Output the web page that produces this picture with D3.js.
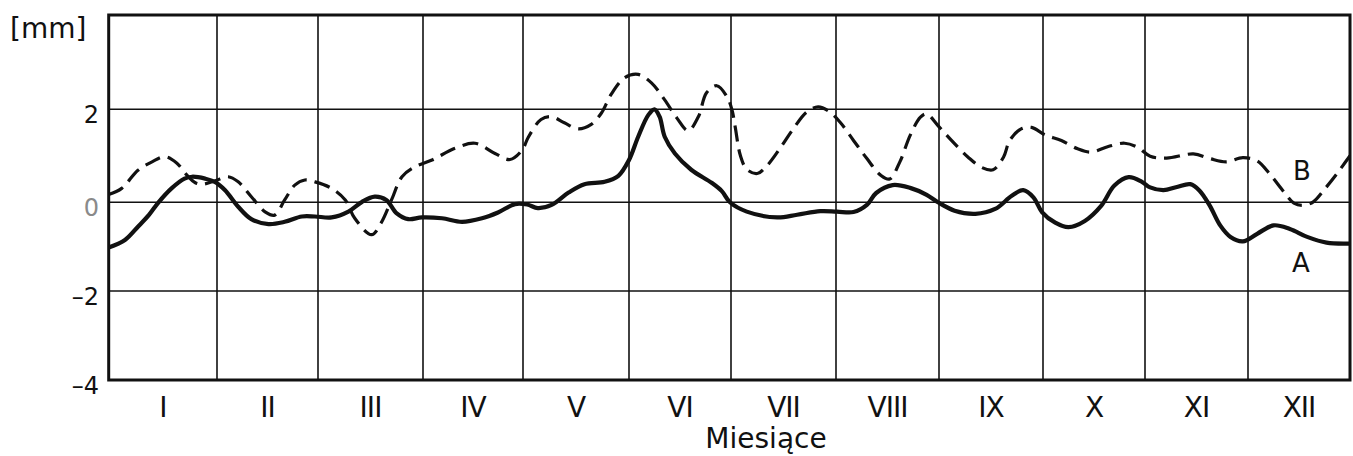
<!DOCTYPE html>
<html>
<head>
<meta charset="utf-8">
<script src="https://cdn.jsdelivr.net/npm/d3@7/dist/d3.min.js"></script>
<style>
  html, body { margin: 0; padding: 0; background: #fff; }
  svg { display: block; }
  text { font-family: "DejaVu Sans", sans-serif; fill: #111; }
</style>
</head>
<body>
<svg id="chart" width="1353" height="456"></svg>
<script>
// ---------- DATA ----------
const months = ["I","II","III","IV","V","VI","VII","VIII","IX","X","XI","XII"];
const yTicks = [-4, -2, 0, 2];
const yTickLabels = ["–4", "–2", "0", "2"];
const unitLabel = "[mm]";
const xTitle = "Miesiące";
const seriesNames = ["A", "B"];

// series A (solid): [month position, mm]
const seriesA = [
  [0.00,-1.02],[0.15,-0.85],[0.27,-0.55],[0.37,-0.29],[0.46,0.00],[0.58,0.30],
  [0.70,0.51],[0.77,0.55],[0.89,0.51],[0.98,0.44],[1.08,0.26],[1.21,-0.10],
  [1.34,-0.38],[1.51,-0.49],[1.67,-0.44],[1.84,-0.32],[1.97,-0.32],[2.13,-0.34],
  [2.29,-0.21],[2.42,0.01],[2.54,0.12],[2.65,0.05],[2.75,-0.25],[2.86,-0.38],
  [2.99,-0.34],[3.19,-0.36],[3.39,-0.44],[3.59,-0.36],[3.75,-0.23],[3.92,-0.04],
  [4.04,-0.05],[4.14,-0.13],[4.27,-0.06],[4.43,0.21],[4.58,0.39],[4.77,0.44],
  [4.90,0.57],[5.00,0.91],[5.09,1.41],[5.19,1.88],[5.25,2.00],[5.30,1.84],
  [5.35,1.41],[5.45,1.05],[5.61,0.70],[5.81,0.42],[5.91,0.24],[5.99,0.00],
  [6.15,-0.21],[6.44,-0.34],[6.63,-0.28],[6.85,-0.20],[7.01,-0.21],[7.17,-0.22],
  [7.30,-0.06],[7.39,0.20],[7.55,0.37],[7.72,0.31],[7.88,0.16],[7.99,0.00],
  [8.15,-0.19],[8.35,-0.26],[8.54,-0.15],[8.70,0.14],[8.81,0.26],[8.91,0.10],
  [8.99,-0.22],[9.12,-0.46],[9.25,-0.56],[9.41,-0.42],[9.57,-0.08],[9.70,0.36],
  [9.84,0.54],[9.97,0.44],[10.05,0.32],[10.18,0.26],[10.31,0.33],[10.44,0.39],
  [10.53,0.25],[10.63,-0.08],[10.73,-0.52],[10.83,-0.78],[10.95,-0.88],[11.09,-0.71],
  [11.25,-0.52],[11.41,-0.60],[11.58,-0.78],[11.77,-0.91],[12.00,-0.93]
];

// series B (dashed): [month position, mm]
const seriesB = [
  [0.00,0.17],[0.12,0.30],[0.27,0.69],[0.40,0.87],[0.52,0.98],[0.63,0.84],
  [0.72,0.59],[0.80,0.42],[0.87,0.39],[0.98,0.46],[1.11,0.55],[1.21,0.44],
  [1.34,0.12],[1.48,-0.22],[1.57,-0.29],[1.67,0.05],[1.77,0.37],[1.87,0.48],
  [1.97,0.44],[2.13,0.30],[2.26,0.05],[2.35,-0.36],[2.51,-0.73],[2.60,-0.47],
  [2.70,0.05],[2.80,0.55],[2.92,0.76],[3.09,0.91],[3.32,1.16],[3.52,1.27],
  [3.72,1.05],[3.87,0.92],[3.99,1.12],[4.05,1.40],[4.17,1.78],[4.27,1.84],
  [4.39,1.71],[4.52,1.58],[4.64,1.67],[4.74,1.92],[4.83,2.31],[4.96,2.67],
  [5.09,2.74],[5.22,2.56],[5.35,2.20],[5.47,1.81],[5.58,1.54],[5.68,1.84],
  [5.76,2.35],[5.86,2.50],[5.96,2.27],[6.01,1.98],[6.04,1.62],[6.09,1.00],
  [6.15,0.71],[6.25,0.62],[6.34,0.78],[6.47,1.17],[6.59,1.57],[6.72,1.94],
  [6.83,2.05],[6.93,1.96],[7.04,1.72],[7.17,1.33],[7.30,0.94],[7.43,0.59],
  [7.52,0.50],[7.62,0.87],[7.72,1.44],[7.82,1.83],[7.88,1.90],[7.99,1.65],
  [8.12,1.33],[8.28,0.97],[8.41,0.75],[8.52,0.70],[8.62,0.97],[8.68,1.33],
  [8.79,1.58],[8.89,1.61],[9.02,1.45],[9.18,1.33],[9.34,1.15],[9.47,1.08],
  [9.64,1.20],[9.80,1.27],[9.93,1.18],[10.05,0.99],[10.21,0.95],[10.47,1.04],
  [10.63,0.94],[10.79,0.87],[10.95,0.96],[11.09,0.89],[11.22,0.59],[11.35,0.23],
  [11.45,-0.02],[11.54,-0.07],[11.64,0.01],[11.75,0.28],[11.88,0.64],[12.00,1.00]
];

// ---------- LAYOUT ----------
const svg = d3.select("#chart");
svg.append("rect").attr("width", 1353).attr("height", 456).attr("fill", "#fff");

// month boundaries as drawn (hand-ruled grid, slightly irregular)
const x = d3.scaleLinear()
  .domain(d3.range(0, 13))
  .range([108.7, 217, 318, 423, 523, 629, 731, 836, 939, 1043, 1145, 1248, 1350]);
const y = d3.scaleLinear()
  .domain([-4, -2, 0, 2, 4])
  .range([380, 291, 202.3, 109.3, 15]);

const g = svg.append("g");

// grid
g.selectAll("line.vg").data(d3.range(1, 12)).join("line")
  .attr("x1", d => x(d)).attr("x2", d => x(d))
  .attr("y1", y(4)).attr("y2", y(-4))
  .attr("stroke", "#111").attr("stroke-width", 1.6);
g.selectAll("line.hg").data([-2, 0, 2]).join("line")
  .attr("x1", x(0)).attr("x2", x(12))
  .attr("y1", d => y(d)).attr("y2", d => y(d))
  .attr("stroke", "#111").attr("stroke-width", 1.6);

// clip
svg.append("clipPath").attr("id", "plotclip").append("rect")
  .attr("x", x(0)).attr("y", y(4)).attr("width", x(12) - x(0)).attr("height", y(-4) - y(4));

const line = d3.line()
  .x(d => x(d[0])).y(d => y(d[1]))
  .curve(d3.curveCatmullRom.alpha(0.5));

const curves = svg.append("g").attr("clip-path", "url(#plotclip)");
curves.append("path").datum(seriesB)
  .attr("d", line).attr("fill", "none")
  .attr("stroke", "#111").attr("stroke-width", 3.2)
  .attr("stroke-dasharray", "16,8").attr("stroke-linecap", "butt");
curves.append("path").datum(seriesA)
  .attr("d", line).attr("fill", "none")
  .attr("stroke", "#111").attr("stroke-width", 4.2)
  .attr("stroke-linejoin", "round");

// frame
svg.append("rect")
  .attr("x", x(0)).attr("y", y(4))
  .attr("width", x(12) - x(0)).attr("height", y(-4) - y(4))
  .attr("fill", "none").attr("stroke", "#111").attr("stroke-width", 3);

// y tick labels
svg.selectAll("text.yt").data(yTicks).join("text")
  .attr("x", 99).attr("y", d => y(d) + 14)
  .attr("text-anchor", "end")
  .style("font-size", "24px")
  .style("fill", d => d === 0 ? "#8a8a8a" : "#111")
  .text((d, i) => yTickLabels[i]);

// unit label
svg.append("text").attr("x", 10).attr("y", 38)
  .style("font-size", "28px").text(unitLabel);

// month labels
svg.selectAll("text.mt").data(months).join("text")
  .attr("x", (d, i) => (x(i) + x(i + 1)) / 2)
  .attr("y", 417)
  .attr("text-anchor", "middle")
  .style("font-size", "28px").style("letter-spacing", "-1px")
  .text(d => d);

// axis title
svg.append("text").attr("x", 766).attr("y", 448)
  .attr("text-anchor", "middle")
  .style("font-size", "28px").text(xTitle);

// series labels
svg.append("text").attr("x", 1302).attr("y", 180)
  .attr("text-anchor", "middle").style("font-size", "26px").text(seriesNames[1]);
svg.append("text").attr("x", 1301).attr("y", 272)
  .attr("text-anchor", "middle").style("font-size", "26px").text(seriesNames[0]);
</script>
</body>
</html>
